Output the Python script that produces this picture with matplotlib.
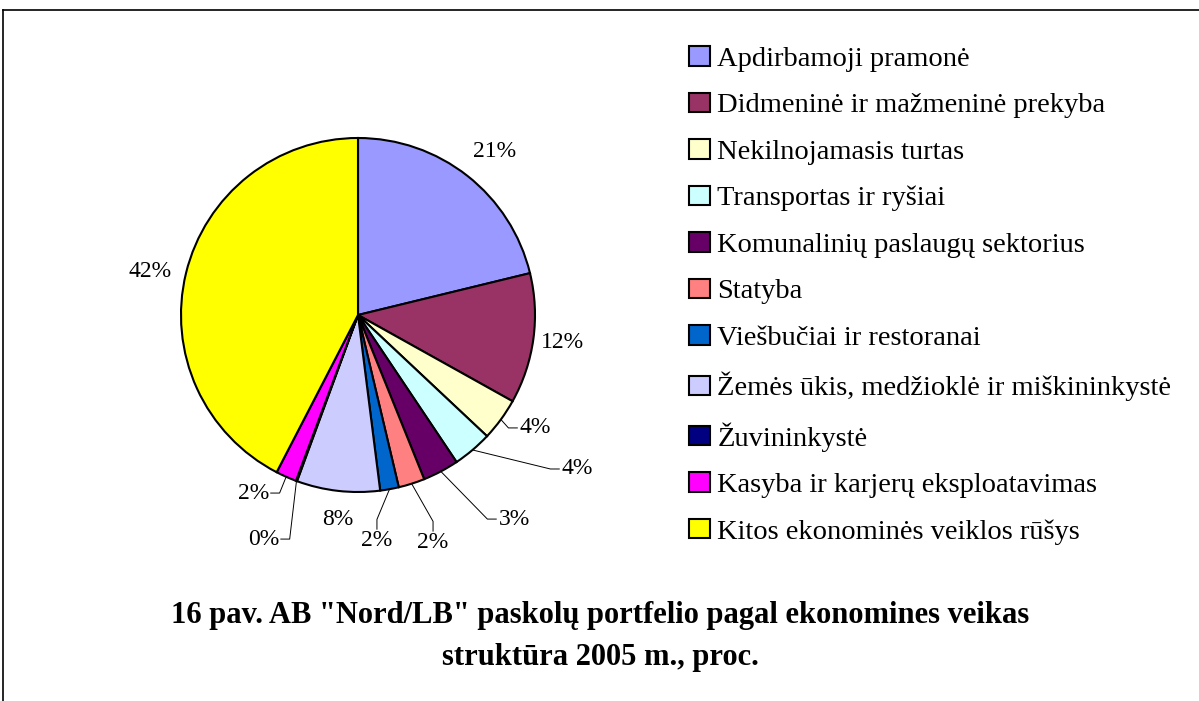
import matplotlib
matplotlib.use("Agg")
import matplotlib.pyplot as plt
import numpy as np
from matplotlib.lines import Line2D

# sector names (legend order = drawing order, clockwise from 12 o'clock)
categories = [
    "Apdirbamoji pramonė",
    "Didmeninė ir mažmeninė prekyba",
    "Nekilnojamasis turtas",
    "Transportas ir ryšiai",
    "Komunalinių paslaugų sektorius",
    "Statyba",
    "Viešbučiai ir restoranai",
    "Žemės ūkis, medžioklė ir miškininkystė",
    "Žuvininkystė",
    "Kasyba ir karjerų eksploatavimas",
    "Kitos ekonominės veiklos rūšys",
]
shares = [21.2, 11.9, 3.9, 3.6, 3.3, 2.4, 1.7, 7.6, 0.1, 1.9, 42.4]
colors = ["#9999FF", "#993366", "#FFFFCC", "#CCFFFF", "#660066", "#FF8080",
          "#0066CC", "#CCCCFF", "#000080", "#FF00FF", "#FFFF00"]

# label anchors in pie units (radius = 1) and side the leader line comes from
label_pos = [
    (0.774, 0.921, None),
    (1.158, -0.153, None),
    (0.910, -0.638, "left"),
    (1.147, -0.870, "left"),
    (0.791, -1.153, "left"),
    (0.424, -1.226, "top"),
    (0.107, -1.215, "top"),
    (-0.113, -1.153, None),
    (-0.446, -1.266, "right"),
    (-0.503, -1.006, "right"),
    (-1.175, 0.243, None),
]

title = ['16 pav. AB "Nord/LB" paskolų portfelio pagal ekonomines veikas',
         "struktūra 2005 m., proc."]

plt.rcParams["font.family"] = ["Liberation Serif", "DejaVu Serif"]

W, H = 1199, 701
fig = plt.figure(figsize=(W / 100, H / 100), dpi=100)

# pie centre ~(358, 315) px, radius ~177 px
cx, cy, r = 358, 315, 177
ax = fig.add_axes([(cx - r) / W, (H - cy - r) / H, 2 * r / W, 2 * r / H])
wedges, _ = ax.pie(shares, colors=colors, startangle=90, counterclock=False,
                   wedgeprops=dict(edgecolor="black", linewidth=1.5))
ax.set_xlim(-1, 1)
ax.set_ylim(-1, 1)
ax.set_aspect("equal")
ax.axis("off")

lab_fs = 17
tick = 0.06
for w, val, (lx, ly, side) in zip(wedges, shares, label_pos):
    txt = f"{val:.0f}%"
    if side is None:
        ax.text(lx, ly, txt, ha="center", va="center", fontsize=lab_fs, clip_on=False)
        continue
    mid = np.deg2rad((w.theta1 + w.theta2) / 2)
    ex, ey = np.cos(mid), np.sin(mid)
    if side == "left":
        elbow = (lx - tick, ly)
        end = (lx - 0.01, ly)
        ha, va = "left", "center"
    elif side == "right":
        elbow = (lx + tick, ly)
        end = (lx + 0.01, ly)
        ha, va = "right", "center"
    else:
        elbow = (lx, ly + tick)
        end = (lx, ly + 0.005)
        ha, va = "center", "top"
    ax.add_line(Line2D([ex, elbow[0], end[0]], [ey, elbow[1], end[1]],
                       color="black", lw=0.7, clip_on=False))
    ax.text(lx + (0.005 if ha == "left" else 0), ly, txt, ha=ha, va=va,
            fontsize=lab_fs, clip_on=False)

leg = fig.legend(wedges, categories, loc="upper left",
                 bbox_to_anchor=(689 / W, 1 - 46 / H), frameon=False,
                 borderpad=0, borderaxespad=0, fontsize=20.5,
                 handlelength=0.74, handleheight=0.68, handletextpad=0.25,
                 labelspacing=0.73)

fig.text(600 / W, 1 - 615 / H, title[0], ha="center", va="center",
         fontsize=22, fontweight="bold")
fig.text(600 / W, 1 - 657 / H, title[1], ha="center", va="center",
         fontsize=22, fontweight="bold")

# outer frame (only top and left edges visible in the crop)
fig.add_artist(Line2D([3 / W, 1], [1 - 10 / H, 1 - 10 / H], color="black", lw=1.2,
                      transform=fig.transFigure))
fig.add_artist(Line2D([3 / W, 3 / W], [0, 1 - 10 / H], color="black", lw=1.2,
                      transform=fig.transFigure))

fig.savefig("out.png", dpi=100, facecolor="white")
